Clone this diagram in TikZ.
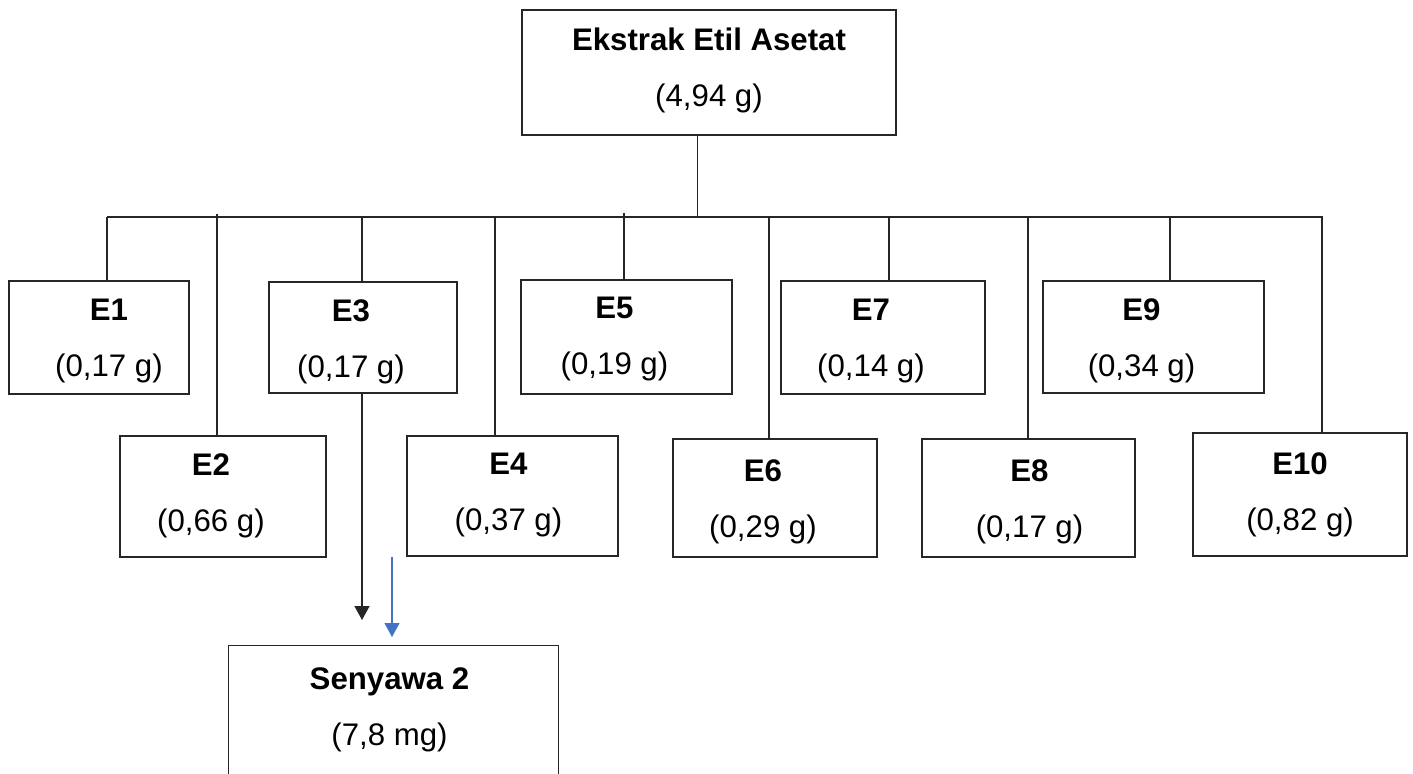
\documentclass[tikz,border=0pt]{standalone}
\usepackage{fontspec}
\setmainfont{Liberation Sans}
\usetikzlibrary{arrows.meta}
\definecolor{arrowblue}{RGB}{68,114,196}

\begin{document}
\begin{tikzpicture}[x=0.5pt, y=-0.5pt, fraction/.style={rectangle, draw=black!85, line width=.7pt, inner sep=0pt}, fractext/.style={align=center, inner sep=0pt, font=\fontsize{15.6}{28}\selectfont}, link/.style={draw=black!85, line width=.7pt}]

\useasboundingbox (0,0) rectangle (1413,774);

\node(extract) [fraction, minimum width=187pt, minimum height=62.5pt, label={[fractext, yshift=1pt]center:{\textbf{Ekstrak Etil Asetat}\\(4,94 g)}}] at (709,72.5) {};

\node(e1) [fraction, minimum width=90pt, minimum height=56.5pt, label={[fractext, xshift=5pt, yshift=-2pt]center:{\textbf{E1}\\(0,17 g)}}] at (99,337.5) {};
\node(e3) [fraction, minimum width=94pt, minimum height=55.5pt, label={[fractext, xshift=-6pt, yshift=-2pt]center:{\textbf{E3}\\(0,17 g)}}] at (363,337.5) {};
\node(e5) [fraction, minimum width=105.5pt, minimum height=57pt, label={[fractext, xshift=-6pt, yshift=-1pt]center:{\textbf{E5}\\(0,19 g)}}] at (626.5,337) {};
\node(e7) [fraction, minimum width=102pt, minimum height=56.5pt, label={[fractext, xshift=-6pt, yshift=-2pt]center:{\textbf{E7}\\(0,14 g)}}] at (883,337.5) {};
\node(e9) [fraction, minimum width=110.5pt, minimum height=56pt, label={[fractext, xshift=-6pt, yshift=-2pt]center:{\textbf{E9}\\(0,34 g)}}] at (1153.5,337) {};

\node(e2) [fraction, minimum width=103pt, minimum height=60.5pt, label={[fractext, xshift=-6pt, yshift=.5pt]center:{\textbf{E2}\\(0,66 g)}}] at (223,496.5) {};
\node(e4) [fraction, minimum width=105.5pt, minimum height=60pt, label={[fractext, xshift=-2pt, yshift=.5pt]center:{\textbf{E4}\\(0,37 g)}}] at (512.5,496) {};
\node(e6) [fraction, minimum width=102pt, minimum height=59pt, label={[fractext, xshift=-6pt, yshift=-2pt]center:{\textbf{E6}\\(0,29 g)}}] at (775,498) {};
\node(e8) [fraction, minimum width=106.5pt, minimum height=59pt, label={[fractext, xshift=.5pt, yshift=-2pt]center:{\textbf{E8}\\(0,17 g)}}] at (1028.5,498) {};
\node(e10) [fraction, minimum width=107pt, minimum height=61.5pt, label={[fractext]center:{\textbf{E10}\\(0,82 g)}}] at (1300,494.5) {};

\node(compound2) [fraction, draw=none, minimum width=164.5pt, minimum height=64pt, label={[fractext, xshift=-2pt]center:{\textbf{Senyawa 2}\\(7,8 mg)}}] at (393.5,710) {};
\draw[link] (compound2.south west) |- (compound2.north east) -- (compound2.south east);

\coordinate (hub) at (697.5,217);
\draw[link] (hub |- extract.south) -- (hub);

\foreach \n/\x/\y in {1/107/217, 2/217/214, 3/362/217, 4/495/217, 5/624/213, 6/769/217, 7/889/217, 8/1028/217, 9/1170/217, 10/1322/216} {
  \coordinate (b\n) at (\x,\y);
  \draw[link] (b\n) -- (b\n |- e\n.north);
}
\draw[link] (b1) -- (b1 -| b10);

\coordinate (tip) at (362,620);
\draw[link, -{Triangle[width=7.5pt,length=7pt]}] (e3.south -| tip) -- (tip);

\coordinate (bluestart) at (392,557);
\coordinate (bluetip) at (392,637);
\draw[draw=arrowblue, line width=.6pt, -{Triangle[width=7.5pt,length=7pt]}] (bluestart) -- (bluetip);
\end{tikzpicture}
\end{document}
